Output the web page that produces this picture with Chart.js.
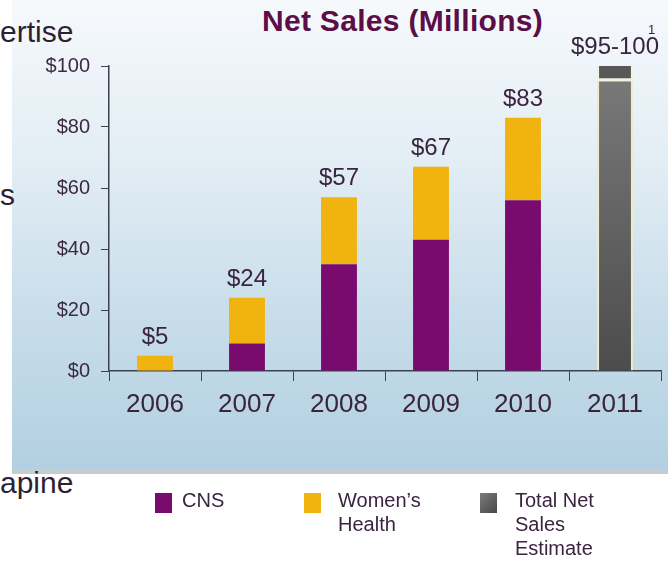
<!DOCTYPE html>
<html>
<head>
<meta charset="utf-8">
<script src="https://cdn.jsdelivr.net/npm/chart.js@4.4.1/dist/chart.umd.min.js"></script>
<style>
  body { margin: 0; background: #fff; font-family: "Liberation Sans", Arial, sans-serif; overflow: hidden; }
  #wrap { position: relative; width: 668px; height: 563px; }
  #panel { position: absolute; left: 12px; top: 0; width: 656px; height: 469px;
    background: linear-gradient(to bottom, #f6f9fc 0%, #e2edf4 35%, #c6dce9 70%, #b2d0e2 100%);
    border-bottom: 5px solid #c6cdd0; }
  canvas { position: absolute; left: 0; top: 0; }
  .side { position: absolute; left: 0; font-size: 30px; line-height: 30px; color: #2e1f35; }
  #title { position: absolute; left: 262px; top: 6px; font-size: 30px; line-height: 30px; font-weight: bold; color: #5b0e47; white-space: nowrap; letter-spacing: 0.3px; }
  #foot { position: absolute; left: 648px; top: 22px; font-size: 13px; color: #3a2440; }
  .leg { position: absolute; top: 488px; font-size: 20px; line-height: 24px; color: #3a2440; }
  .leg i { position: absolute; width: 17px; height: 20px; top: 5px; }
  .leg span { position: absolute; white-space: normal; width: 95px; }
</style>
</head>
<body>
<div id="wrap">
  <div id="panel"></div>
  <div class="side" style="top:17px">ertise</div>
  <div class="side" style="top:180px">s</div>
  <div class="side" style="top:468px">apine</div>
  <div id="title">Net Sales (Millions)</div>
  <canvas id="chart" width="668" height="563"></canvas>
  <div id="foot">1</div>
  <div id="legend"></div>
</div>
<script>
const years = ['2006', '2007', '2008', '2009', '2010', '2011'];
const cns = [null, 9, 35, 43, 56, null];
const womensHealth = [5, 15, 22, 24, 27, null];
const estimateLow = [null, null, null, null, null, 95];
const estimateRange = [null, null, null, null, null, 5];
const valueLabels = ['$5', '$24', '$57', '$67', '$83', '$95-100'];
const seriesNames = ['CNS', 'Women\u2019s Health', 'Total Net Sales Estimate'];

const purple = '#7a0b6e';
const gold = '#f0b30f';

function grayFill(ctx) {
    const area = ctx.chart.chartArea;
    if (!area) return '#666';
    const g = ctx.chart.ctx.createLinearGradient(0, area.top, 0, area.bottom);
    g.addColorStop(0, '#7a7a7a');
    g.addColorStop(1, '#4c4c4c');
    return g;
}

const valueLabelPlugin = {
    id: 'valueLabels',
    afterDatasetsDraw(chart) {
        const ctx = chart.ctx;
        ctx.save();
        ctx.font = '24px "Liberation Sans", Arial, sans-serif';
        ctx.fillStyle = '#3a2440';
        ctx.textAlign = 'center';
        ctx.textBaseline = 'alphabetic';
        years.forEach((yr, i) => {
            let top = Infinity, x = 0;
            chart.data.datasets.forEach((ds, d) => {
                if (ds.data[i] == null) return;
                const el = chart.getDatasetMeta(d).data[i];
                if (el.y < top) { top = el.y; x = el.x; }
            });
            ctx.fillText(valueLabels[i], x, top - 12);
        });
        ctx.restore();
    }
};

const axisColor = '#3d4050';
const tickFont = '"Liberation Sans", Arial, sans-serif';

new Chart(document.querySelector('#chart').getContext('2d'), {
    type: 'bar',
    data: {
        labels: years,
        datasets: [
            { label: seriesNames[0], data: cns, backgroundColor: purple },
            { label: seriesNames[1], data: womensHealth, backgroundColor: gold },
            { label: seriesNames[2], data: estimateLow, backgroundColor: grayFill,
              borderColor: '#f1eac4', borderWidth: { left: 2, right: 2, top: 0, bottom: 0 } },
            { label: 'range', data: estimateRange, backgroundColor: '#585858',
              borderColor: '#f3f0dc', borderSkipped: false,
              borderWidth: { left: 2, right: 2, top: 0, bottom: 3 } }
        ]
    },
    options: {
        responsive: false,
        animation: false,
        devicePixelRatio: 1,
        layout: { padding: { left: 0, right: 7, top: 66, bottom: 0 } },
        datasets: { bar: { categoryPercentage: 1, barPercentage: 0.39 } },
        plugins: { legend: { display: false }, tooltip: { enabled: false } },
        scales: {
            x: {
                stacked: true,
                grid: { drawOnChartArea: false, color: axisColor, tickLength: 10, offset: true },
                border: { color: axisColor, width: 1.5 },
                ticks: { color: '#3a2440', font: { size: 26, family: tickFont }, padding: 8 },
                afterFit: s => { s.height = 563 - 371; }
            },
            y: {
                stacked: true,
                min: 0, max: 100,
                grid: { drawOnChartArea: false, color: axisColor, tickLength: 8 },
                border: { color: axisColor, width: 1.5 },
                ticks: { stepSize: 20, color: '#3c2a44', font: { size: 20, family: tickFont }, padding: 11,
                         callback: v => '$' + v },
                afterFit: s => { s.width = 109; }
            }
        }
    },
    plugins: [valueLabelPlugin]
});

// legend built from the series names
const legendSwatches = [purple, gold, 'linear-gradient(135deg, #7c7c7c, #474747)'];
const legendLeft = [155, 304, 480];
const textLeft = [182, 338, 515];
const legend = document.querySelector('#legend');
seriesNames.forEach((name, i) => {
    const item = document.createElement('div');
    item.className = 'leg';
    item.style.left = legendLeft[i] + 'px';
    item.innerHTML = '<i style="left:0;background:' + legendSwatches[i] + '"></i>' +
        '<span style="left:' + (textLeft[i] - legendLeft[i]) + 'px">' + name + '</span>';
    legend.appendChild(item);
});
</script>
</body>
</html>
